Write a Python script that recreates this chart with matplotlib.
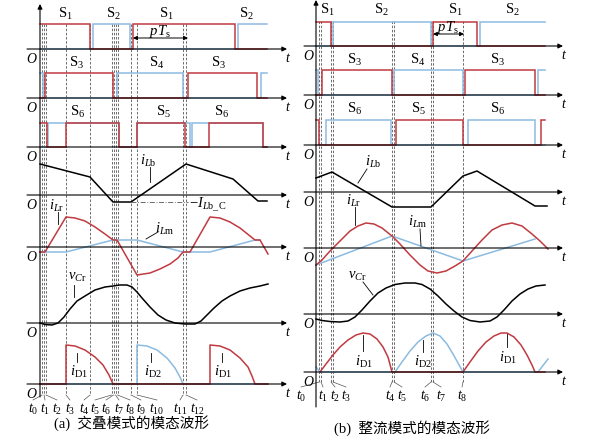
import matplotlib
matplotlib.use('Agg')
import matplotlib.pyplot as plt

plt.rcParams['font.family'] = ['Liberation Serif', 'Noto Sans CJK SC']
plt.rcParams['mathtext.fontset'] = 'custom'
plt.rcParams['mathtext.rm'] = 'Liberation Serif'
plt.rcParams['mathtext.it'] = 'Liberation Serif:italic'
plt.rcParams['mathtext.bf'] = 'Liberation Serif:bold'

RED = '#c03a40'
BLUE = '#8cbbe0'
GRAY = '#555555'

# ---------------- Panel (a): overlap mode ----------------
A_T = [42, 44, 46, 66, 90, 111.5, 113.5, 115.5, 117.5, 131, 137, 183, 186]
A_TLAB = ['$t_{0}$', '$t_{1}$', '$t_{2}$', '$t_{3}$', '$t_{4}$', '$t_{5}$', '$t_{6}$',
          '$t_{7}$', '$t_{8}$', '$t_{9}$', '$t_{10}$', '$t_{11}$', '$t_{12}$']
A_TLAB_X = [33, 45, 57, 70, 84, 95, 106, 119, 130, 141, 157, 180, 197]

A_S12_RED_X = [40, 90, 133, 235, 267]
A_S12_RED_S = [1, 0, 1, 0]
A_S12_BLUE_X = [40, 93, 130, 238, 267]
A_S12_BLUE_S = [0, 1, 0, 1]
A_S34_RED_X = [40, 45, 113, 188, 257, 267]
A_S34_RED_S = [0, 1, 0, 1, 0]
A_S34_BLUE_X = [40, 43, 117, 183, 261, 267]
A_S34_BLUE_S = [1, 0, 1, 0, 1]
A_S56_RED_X = [40, 47, 66, 119, 137, 185, 209, 263, 267]
A_S56_RED_S = [1, 0, 1, 0, 1, 0, 1, 0]
A_S56_BLUE_X = [40, 48, 119, 137, 190, 192, 263, 267]
A_S56_BLUE_S = [0, 1, 0, 1, 0, 1, 0]

A_ILB_X = [40, 90, 113, 131, 186, 233, 258, 267]
A_ILB_V = [31, 18, -7, -7, 31, 16, -6, -6]

A_ILR_X = [40, 45, 66, 75, 85, 95, 105, 113, 117, 137, 150, 160, 170, 178, 183, 190,
           210, 220, 230, 240, 250, 255, 260, 268]
A_ILR_V = [-5, -5, 30, 29, 26, 20, 13, 7, 7, -28, -26, -22, -17, -11, -5, -5,
           30, 29, 25, 19, 11, 7, 7, -7]
A_ILM_X = [40, 66, 113, 137, 183, 210, 255, 260]
A_ILM_V = [-5, -5, 7, 7, -5, -5, 7, 7]

A_VCR_X = [40, 45, 52, 58, 64, 70, 77, 85, 95, 105, 113, 120, 127, 132, 137, 142, 150,
           158, 166, 175, 185, 195, 201, 207, 214, 222, 230, 240, 250, 260, 268]
A_VCR_V = [0, -1.5, -2, 0, 6, 14, 22, 27, 33, 36, 37, 38, 38, 36, 31, 25, 16,
           8, 3, 0, -1, -1, 2, 8, 15, 22, 27, 32, 35, 37, 39]

A_ID1_X = [40, 66, 66, 75, 85, 95, 103, 109, 113, 210, 210, 220, 230, 240, 248, 252, 255, 268]
A_ID1_V = [0, 0, 39, 38, 34, 27, 19, 9, 0, 0, 39, 38, 34, 26, 17, 8, 0, 0]
A_ID2_X = [40, 137, 137, 147, 157, 167, 175, 180, 183, 268]
A_ID2_V = [0, 0, 39, 38, 34, 26, 16, 7, 0, 0]

# ---------------- Panel (b): rectifier mode ----------------
B_T = [319, 321, 331, 333, 392, 394, 431, 433, 463]
B_TLAB = ['$t_{0}$', '$t_{1}$', '$t_{2}$', '$t_{3}$', '$t_{4}$', '$t_{5}$', '$t_{6}$',
          '$t_{7}$', '$t_{8}$']
B_TLAB_X = [301, 323, 335, 346, 390, 402, 425, 441, 462]

B_S12_RED_X = [316, 331, 433, 477, 545]
B_S12_RED_S = [1, 0, 1, 0]
B_S12_BLUE_X = [316, 333, 431, 480, 545]
B_S12_BLUE_S = [0, 1, 0, 1]
B_S34_RED_X = [316, 322, 392, 465, 535, 545]
B_S34_RED_S = [0, 1, 0, 1, 0]
B_S34_BLUE_X = [316, 318, 394, 463, 538, 545]
B_S34_BLUE_S = [1, 0, 1, 0, 1]
B_S56_RED_X = [316, 319, 396, 463, 541, 545]
B_S56_RED_S = [1, 0, 1, 0, 1]
B_S56_BLUE_X = [316, 326, 391, 468, 535, 545]
B_S56_BLUE_S = [0, 1, 0, 1, 0]

B_ILB_X = [316, 332, 392, 431, 463, 477, 535, 547]
B_ILB_V = [14, 20, -15, -15, 16, 21, -14, -14]

B_ILR_X = [316, 322, 330, 340, 350, 358, 366, 374, 382, 392, 400, 410, 420, 428, 437,
           446, 455, 463, 472, 482, 492, 502, 512, 522, 532, 540, 548]
B_ILR_V = [-17, -12, -3, 7, 17, 22, 25, 24, 20, 12, 4, -7, -17, -23, -25,
           -23, -18, -13, -3, 8, 18, 23, 25, 22, 14, 7, -1]
B_ILM_X = [316, 392, 463, 535]
B_ILM_V = [-17, 12, -13, 9]

B_VCR_X = [316, 322, 330, 340, 348, 355, 362, 370, 378, 386, 395, 405, 415, 422, 430,
           438, 446, 454, 462, 470, 480, 490, 497, 504, 512, 520, 528, 536, 545]
B_VCR_V = [-5, -6.5, -7.5, -8, -7, -3, 4, 13, 21, 26, 29.5, 31, 31, 29.5, 25,
           18, 10, 3, -3, -6.5, -8, -7, -3, 4, 13, 20, 25, 28, 29]

B_ID1_X = [320, 326, 333, 340, 348, 356, 363, 370, 377, 383, 388, 392, 463, 470, 478,
           486, 494, 501, 507, 514, 521, 527, 532, 535, 545]
B_ID1_V = [0, 8, 17, 25, 32, 37, 39, 38, 33, 25, 15, 0, 0, 10, 21,
           30, 36, 39, 39, 35, 27, 17, 7, 0, 0]
B_ID2_X = [316, 320, 395, 402, 410, 418, 426, 433, 440, 447, 453, 458, 463, 538, 548]
B_ID2_V = [5, 0, 0, 10, 21, 30, 36, 39, 36, 28, 18, 9, 0, 0, 13]

# ---------------- layout ----------------
fig = plt.figure(figsize=(6, 4.39), dpi=100)
ax = fig.add_axes([0, 0, 1, 1])
ax.set_xlim(0, 600)
ax.set_ylim(439, 0)
ax.axis('off')

LW = 1.1


def step_pts(xs, s):
    px, py = [], []
    for i, st in enumerate(s):
        px += [xs[i], xs[i + 1]]
        py += [st, st]
    return px, py


def draw_switch(xs, s, base, h, color):
    px, py = step_pts(xs, s)
    ax.plot(px, [base - v * h for v in py], color=color, lw=LW, solid_joinstyle='miter')


def draw_curve(xs, vs, base, color):
    ax.plot(xs, [base - v for v in vs], color=color, lw=LW)


def hx_axis(x0, x1, y):
    ax.annotate('', xy=(x1, y), xytext=(x0, y),
                arrowprops=dict(arrowstyle='-|>', lw=0.8, color='black',
                                mutation_scale=7, shrinkA=0, shrinkB=0))


def panel(x0, xstart, xend, ytop, ybot, bases, tlines, tlabs, tlabx, tline_bot,
          tlab_y, olab_x):
    ax.annotate('', xy=(x0, ytop), xytext=(x0, ybot),
                arrowprops=dict(arrowstyle='-|>', lw=0.8, color='black',
                                mutation_scale=7, shrinkA=0, shrinkB=0))
    for b in bases:
        hx_axis(xstart, xend, b)
        ax.text(olab_x, b + 2, '$O$', fontsize=10, ha='center', va='top')
        ax.text(xend + 1, b + 2, '$t$', fontsize=10, ha='center', va='top')
    for x, lab, lx in zip(tlines, tlabs, tlabx):
        ax.plot([x, x], [bases[0] - 25, tline_bot], color=GRAY, lw=0.6,
                dashes=(3, 2))
        ax.plot([x, lx], [tline_bot, tline_bot + 5], color=GRAY, lw=0.5)
        ax.text(lx, tlab_y, lab, fontsize=10, ha='center', va='center')


A_BASE = [50, 99, 148, 196, 248, 324, 385]
B_BASE = [47, 96, 146, 193, 249, 315, 373]

panel(40, 27, 287, 5, 398, A_BASE, A_T, A_TLAB, A_TLAB_X, 396, 409, 32)
panel(316, 304, 563, 1, 408, B_BASE, B_T, B_TLAB, B_TLAB_X, 383, 396, 309)

# switching rows (a)
draw_switch(A_S12_BLUE_X, A_S12_BLUE_S, A_BASE[0], 25, BLUE)
draw_switch(A_S12_RED_X, A_S12_RED_S, A_BASE[0], 25, RED)
draw_switch(A_S34_BLUE_X, A_S34_BLUE_S, A_BASE[1], 25, BLUE)
draw_switch(A_S34_RED_X, A_S34_RED_S, A_BASE[1], 25, RED)
draw_switch(A_S56_BLUE_X, A_S56_BLUE_S, A_BASE[2], 24, BLUE)
draw_switch(A_S56_RED_X, A_S56_RED_S, A_BASE[2], 24, RED)
# switching rows (b)
draw_switch(B_S12_BLUE_X, B_S12_BLUE_S, B_BASE[0], 24, BLUE)
draw_switch(B_S12_RED_X, B_S12_RED_S, B_BASE[0], 24, RED)
draw_switch(B_S34_BLUE_X, B_S34_BLUE_S, B_BASE[1], 25, BLUE)
draw_switch(B_S34_RED_X, B_S34_RED_S, B_BASE[1], 25, RED)
draw_switch(B_S56_BLUE_X, B_S56_BLUE_S, B_BASE[2], 25, BLUE)
draw_switch(B_S56_RED_X, B_S56_RED_S, B_BASE[2], 25, RED)

# analog rows (a)
draw_curve(A_ILB_X, A_ILB_V, A_BASE[3], 'black')
ax.plot([131, 188], [A_BASE[3] + 7] * 2, color=GRAY, lw=0.6, dashes=(6, 2, 1, 2))
draw_curve(A_ILM_X, A_ILM_V, A_BASE[4], BLUE)
draw_curve(A_ILR_X, A_ILR_V, A_BASE[4], RED)
draw_curve(A_VCR_X, A_VCR_V, A_BASE[5], 'black')
draw_curve(A_ID2_X, A_ID2_V, A_BASE[6], BLUE)
draw_curve(A_ID1_X, A_ID1_V, A_BASE[6], RED)
# analog rows (b)
draw_curve(B_ILB_X, B_ILB_V, B_BASE[3], 'black')
draw_curve(B_ILM_X, B_ILM_V, B_BASE[4], BLUE)
draw_curve(B_ILR_X, B_ILR_V, B_BASE[4], RED)
draw_curve(B_VCR_X, B_VCR_V, B_BASE[5], 'black')
draw_curve(B_ID2_X, B_ID2_V, B_BASE[6], BLUE)
draw_curve(B_ID1_X, B_ID1_V, B_BASE[6], RED)

# switch labels
FS = 10.5
for txt, x, y in [('S$_1$', 65, 14), ('S$_2$', 113, 14), ('S$_1$', 166, 14), ('S$_2$', 246, 14),
                  ('S$_3$', 77, 63), ('S$_4$', 157, 63), ('S$_3$', 219, 63),
                  ('S$_6$', 78, 112), ('S$_5$', 163, 112), ('S$_6$', 222, 112),
                  ('S$_1$', 327, 10), ('S$_2$', 381, 10), ('S$_1$', 455, 10), ('S$_2$', 512, 10),
                  ('S$_3$', 355, 60), ('S$_4$', 418, 60), ('S$_3$', 498, 60),
                  ('S$_6$', 355, 109), ('S$_5$', 418, 109), ('S$_6$', 498, 109)]:
    ax.text(x, y, txt, fontsize=FS, ha='center', va='center')

# pTs arrows
for x0, x1, y, tx, ty in [(133, 188, 39, 160, 31), (433, 464, 35, 448, 27)]:
    ax.annotate('', xy=(x1, y), xytext=(x0, y),
                arrowprops=dict(arrowstyle='<|-|>', lw=0.7, color='black',
                                mutation_scale=6, shrinkA=0, shrinkB=0))
    ax.text(tx, ty, '$pT_{\\mathrm{s}}$', fontsize=FS, ha='center', va='center')

# curve labels with leaders
LBL = [('$i_{L\\mathrm{b}}$', 148, 161, (150, 168), (150, 183)),
       ('$-I_{L\\mathrm{b\\_C}}$', 208, 205, None, None),
       ('$i_{L\\mathrm{r}}$', 57, 206, (58, 213), (58, 225)),
       ('$i_{L\\mathrm{m}}$', 165, 229, (158, 233), (146, 240)),
       ('$v_{C\\mathrm{r}}$', 77, 277, (74, 286), (74, 298)),
       ('$i_{\\mathrm{D1}}$', 79, 372, (77, 354), (77, 363)),
       ('$i_{\\mathrm{D2}}$', 153, 372, (151, 354), (151, 363)),
       ('$i_{\\mathrm{D1}}$', 223, 372, (222, 354), (222, 363)),
       ('$i_{L\\mathrm{b}}$', 373, 162, (367, 170), (358, 184)),
       ('$i_{L\\mathrm{r}}$', 354, 201, (355, 208), (355, 226)),
       ('$i_{L\\mathrm{m}}$', 418, 222, (420, 230), (421, 247)),
       ('$v_{C\\mathrm{r}}$', 357, 276, (363, 283), (373, 296)),
       ('$i_{\\mathrm{D1}}$', 364, 362, (363, 336), (363, 352)),
       ('$i_{\\mathrm{D2}}$', 423, 362, (423, 341), (423, 353)),
       ('$i_{\\mathrm{D1}}$', 508, 358, (507, 335), (507, 348))]
for txt, x, y, p0, p1 in LBL:
    ax.text(x, y, txt, fontsize=FS, ha='center', va='center')
    if p0 is not None:
        ax.plot([p0[0], p1[0]], [p0[1], p1[1]], color='black', lw=0.6)

# captions
ax.text(132, 423, '(a)  交叠模式的模态波形', fontsize=10.5, ha='center', va='center')
ax.text(412, 428, '(b)  整流模式的模态波形', fontsize=10.5, ha='center', va='center')

fig.savefig('out.png', dpi=100)
